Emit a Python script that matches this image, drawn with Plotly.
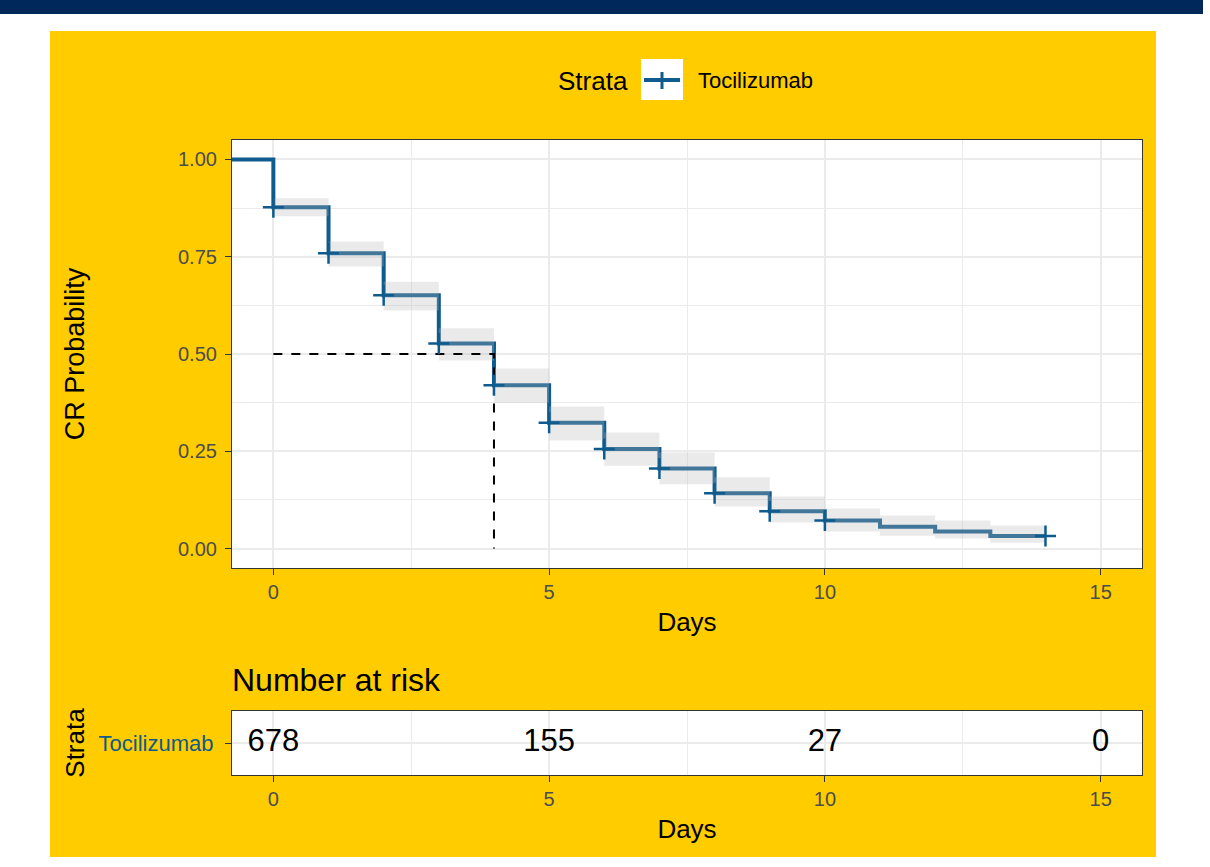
import plotly.graph_objects as go

W, H = 1210, 867


def px(x):
    return x / W


def py(y):
    return 1 - y / H


# ---------------- data ----------------
strata_name = "Tocilizumab"
times = [-1, 0, 1, 2, 3, 4, 5, 6, 7, 8, 9, 10, 11, 12, 13, 14]
surv = [1.0, 0.877, 0.759, 0.651, 0.527, 0.420, 0.323, 0.256, 0.206, 0.142,
        0.096, 0.072, 0.056, 0.044, 0.032, 0.032]
band_start = [0, 1, 2, 3, 4, 5, 6, 7, 8, 9, 10, 11, 12, 13]
band_end = [1, 2, 3, 4, 5, 6, 7, 8, 9, 10, 11, 12, 13, 14]
band_upper = [0.900, 0.789, 0.686, 0.566, 0.463, 0.365, 0.298, 0.247, 0.183,
              0.134, 0.103, 0.085, 0.072, 0.059]
band_lower = [0.854, 0.725, 0.612, 0.483, 0.375, 0.278, 0.213, 0.165, 0.108,
              0.067, 0.044, 0.033, 0.026, 0.015]
censor_times = [0, 1, 2, 3, 4, 5, 6, 7, 8, 9, 10, 14]
median_x = [0, 4, 4]
median_y = [0.5, 0.5, 0.0]
risk_times = [0, 5, 10, 15]
risk_n = [678, 155, 27, 0]
x_ticks = [0, 5, 10, 15]
y_ticks = [0.0, 0.25, 0.50, 0.75, 1.00]
y_ticktext = ["0.00", "0.25", "0.50", "0.75", "1.00"]

BLUE = "#0F5B8D"
GRID = "#EBEBEB"
FONT = "Liberation Sans, Arial, sans-serif"
YELLOW = "#FFCC00"
NAVY = "#00285A"

surv_lookup = dict(zip(times, surv))
censor_surv = [surv_lookup[t] for t in censor_times]

# confidence band polygons
bx, by = [], []
for s, e, lo, up in zip(band_start, band_end, band_lower, band_upper):
    bx += [s, e, e, s, s, None]
    by += [lo, lo, up, up, lo, None]

fig = go.Figure()

fig.add_trace(go.Scatter(
    x=times, y=surv, mode="lines", line=dict(color=BLUE, width=4, shape="hv"),
    showlegend=False, hoverinfo="skip", xaxis="x", yaxis="y"))
fig.add_trace(go.Scatter(
    x=bx, y=by, mode="lines", fill="toself", fillcolor="rgba(185,185,185,0.3)",
    line=dict(width=0), showlegend=False, hoverinfo="skip", xaxis="x", yaxis="y"))
fig.add_trace(go.Scatter(
    x=median_x, y=median_y, mode="lines",
    line=dict(color="black", width=2, dash="dash"),
    showlegend=False, hoverinfo="skip", xaxis="x", yaxis="y"))
fig.add_trace(go.Scatter(
    x=censor_times, y=censor_surv, mode="markers",
    marker=dict(symbol="cross-thin", size=15, color=BLUE,
                line=dict(color=BLUE, width=2.5)),
    showlegend=False, xaxis="x", yaxis="y"))

# risk table
fig.add_trace(go.Scatter(
    x=risk_times, y=[strata_name] * len(risk_times), mode="text",
    text=[str(n) for n in risk_n],
    textfont=dict(family=FONT, size=31, color="black"),
    showlegend=False, xaxis="x2", yaxis="y2"))

axis_common = dict(
    showline=True, mirror=True, linecolor="#333333", linewidth=1.2,
    ticks="outside", ticklen=6, tickwidth=1.2, tickcolor="#333333",
    showgrid=True, gridcolor=GRID, gridwidth=1.5, zeroline=False,
    tickfont=dict(family=FONT, size=20, color="#4D4D4D"),
    automargin=False,
)

fig.update_layout(
    width=W, height=H,
    margin=dict(l=0, r=0, t=0, b=0),
    paper_bgcolor="white", plot_bgcolor="white",
    font=dict(family=FONT, color="black"),
    xaxis=dict(
        axis_common, domain=[px(232), px(1142)], range=[-0.75, 15.75],
        tickvals=x_ticks, anchor="y",
        minor=dict(showgrid=True, dtick=2.5, tick0=0, gridcolor=GRID, gridwidth=0.8),
        title=dict(text="Days", font=dict(family=FONT, size=26, color="black"), standoff=10),
    ),
    yaxis=dict(
        axis_common, domain=[py(568), py(140)], range=[-0.05, 1.05],
        tickvals=y_ticks, ticktext=y_ticktext, anchor="x", ticklabelstandoff=4,
        minor=dict(showgrid=True, dtick=0.125, tick0=0, gridcolor=GRID, gridwidth=0.8),
        title=dict(text="CR Probability", font=dict(family=FONT, size=27, color="black"), standoff=85),
    ),
    xaxis2=dict(
        axis_common, domain=[px(232), px(1142)], range=[-0.75, 15.75],
        tickvals=x_ticks, anchor="y2",
        minor=dict(showgrid=True, dtick=2.5, tick0=0, gridcolor=GRID, gridwidth=0.8),
        title=dict(text="Days", font=dict(family=FONT, size=26, color="black"), standoff=10),
    ),
    yaxis2=dict(
        axis_common, domain=[py(775), py(711)], type="category", anchor="x2",
        range=[-0.5, 0.5], ticklabelstandoff=7,
        tickfont=dict(family=FONT, size=22, color=BLUE),
        title=dict(text="Strata", font=dict(family=FONT, size=26, color="black"), standoff=6),
    ),
)

# background panels
fig.add_shape(type="rect", xref="paper", yref="paper", layer="below",
              x0=0, x1=px(1203), y0=py(14), y1=1, fillcolor=NAVY, line=dict(width=0))
fig.add_shape(type="rect", xref="paper", yref="paper", layer="below",
              x0=px(50), x1=px(1156), y0=py(857), y1=py(31), fillcolor=YELLOW, line=dict(width=0))
# white panel backgrounds
fig.add_shape(type="rect", xref="x domain", yref="y domain", layer="below",
              x0=0, x1=1, y0=0, y1=1, fillcolor="white", line=dict(width=0))
fig.add_shape(type="rect", xref="x2 domain", yref="y2 domain", layer="below",
              x0=0, x1=1, y0=0, y1=1, fillcolor="white", line=dict(width=0))

# legend (custom)
fig.add_shape(type="rect", xref="paper", yref="paper", layer="below",
              x0=px(641), x1=px(683), y0=py(100), y1=py(59), fillcolor="white", line=dict(width=0))
fig.add_shape(type="line", xref="paper", yref="paper",
              x0=px(644), x1=px(680), y0=py(80), y1=py(80), line=dict(color=BLUE, width=4))
fig.add_shape(type="line", xref="paper", yref="paper",
              x0=px(662), x1=px(662), y0=py(72), y1=py(89), line=dict(color=BLUE, width=3))
fig.add_annotation(xref="paper", yref="paper", x=px(556), y=py(81), xanchor="left", yanchor="middle",
                   text="Strata", showarrow=False, font=dict(family=FONT, size=26, color="black"))
fig.add_annotation(xref="paper", yref="paper", x=px(696), y=py(81), xanchor="left", yanchor="middle",
                   text=strata_name, showarrow=False, font=dict(family=FONT, size=22, color="black"))

fig.add_annotation(xref="paper", yref="paper", x=px(230), y=py(680), xanchor="left", yanchor="middle",
                   text="Number at risk", showarrow=False, font=dict(family=FONT, size=32, color="black"))

fig.write_html("out.html", config={"displayModeBar": False},
               post_script="document.body.style.margin='0px';")
